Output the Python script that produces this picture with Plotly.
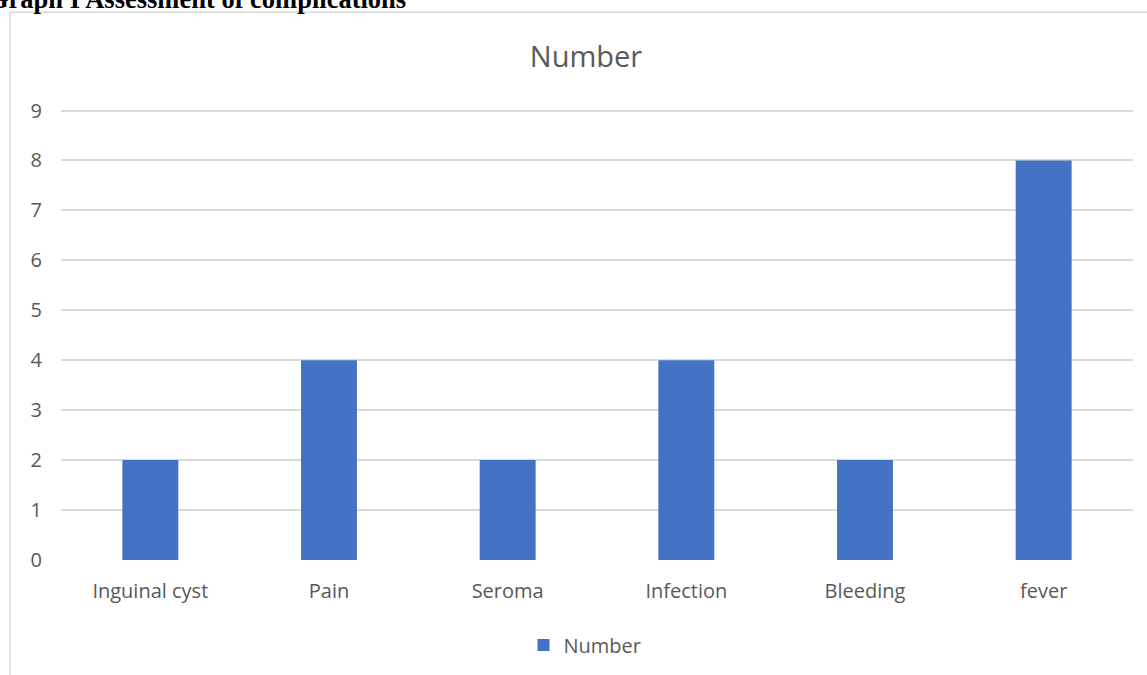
import plotly.graph_objects as go

# Complication counts
categories = ["Inguinal cyst", "Pain", "Seroma", "Infection", "Bleeding", "fever"]
counts = [2, 4, 2, 4, 2, 8]
y_ticks = list(range(0, 10))

W, H = 1147, 675
L, R, T, B = 61, 14, 108, 114
plot_w = W - L - R
plot_h = H - T - B


def px_x(px):
    return (px - L) / plot_w


def px_y(py):
    return (H - B - py) / plot_h


text_color = "#595959"
grid_color = "#d9d9d9"
font_family = "Open Sans, Noto Sans, sans-serif"

fig = go.Figure(
    go.Bar(
        x=categories,
        y=counts,
        name="Number",
        marker=dict(color="#4472C4", line=dict(width=0)),
        showlegend=True,
    )
)

fig.update_layout(
    width=W,
    height=H,
    margin=dict(l=L, r=R, t=T, b=B),
    paper_bgcolor="white",
    plot_bgcolor="white",
    bargap=0.687,
    font=dict(family=font_family, color=text_color, size=20),
    title=dict(
        text="Number",
        font=dict(size=29, color=text_color, family=font_family),
        x=586 / W,
        xref="container",
        xanchor="center",
        y=1 - 57 / H,
        yref="container",
        yanchor="middle",
    ),
    legend=dict(
        orientation="h",
        x=px_x(585),
        xanchor="center",
        y=px_y(645),
        yanchor="middle",
        font=dict(size=20, color=text_color, family=font_family),
        bgcolor="rgba(0,0,0,0)",
    ),
    xaxis=dict(
        showgrid=False,
        showline=False,
        zeroline=False,
        ticks="",
        ticklabelstandoff=17,
        tickfont=dict(size=20, color=text_color),
    ),
    yaxis=dict(
        range=[0, 9.05],
        tickvals=y_ticks,
        showgrid=True,
        gridcolor=grid_color,
        gridwidth=1.5,
        zeroline=False,
        showline=False,
        ticks="",
        ticklabelstandoff=18,
        tickfont=dict(size=20, color=text_color),
    ),
    shapes=[
        # chart frame
        dict(
            type="rect",
            xref="paper",
            yref="paper",
            x0=px_x(10),
            x1=px_x(1200),
            y0=px_y(720),
            y1=px_y(12),
            line=dict(color=grid_color, width=1.5),
            fillcolor="rgba(0,0,0,0)",
            layer="below",
        ),
    ],
    annotations=[
        dict(
            text="<b>Graph I Assessment of complications</b>",
            xref="paper",
            yref="paper",
            x=px_x(-14),
            xanchor="left",
            y=px_y(16),
            yanchor="bottom",
            showarrow=False,
            font=dict(family="Liberation Serif, Times New Roman, serif", size=26.5, color="black"),
        )
    ],
)

fig.write_html("out.html")
